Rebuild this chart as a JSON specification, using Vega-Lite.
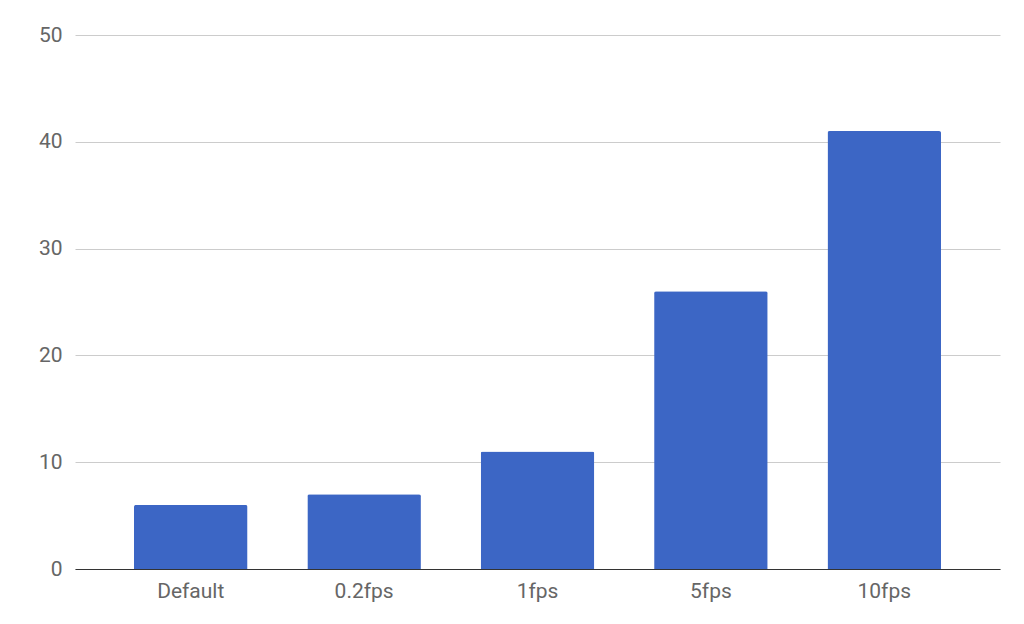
{
  "$schema": "https://vega.github.io/schema/vega-lite/v6.json",
  "width": 925,
  "height": 534,
  "autosize": {"type": "none"},
  "padding": {"left": 75, "top": 35, "right": 24, "bottom": 55},
  "background": "white",
  "config": {
    "view": {"stroke": null},
    "font": "Roboto"
  },
  "data": {
    "values": [
      {"setting": "Default", "value": 6},
      {"setting": "0.2fps", "value": 7},
      {"setting": "1fps", "value": 11},
      {"setting": "5fps", "value": 26},
      {"setting": "10fps", "value": 41}
    ]
  },
  "mark": {"type": "bar", "color": "#3c66c5", "cornerRadiusTopLeft": 2, "cornerRadiusTopRight": 2},
  "encoding": {
    "x": {
      "field": "setting",
      "type": "nominal",
      "sort": null,
      "scale": {"paddingInner": 0.345, "paddingOuter": 0.34},
      "axis": {
        "title": null,
        "labelAngle": 0,
        "labelFont": "Roboto",
        "labelFontSize": 21,
        "labelColor": "#666666",
        "labelPadding": 11,
        "ticks": false,
        "domainColor": "#333333",
        "domainWidth": 1.2
      }
    },
    "y": {
      "field": "value",
      "type": "quantitative",
      "scale": {"domain": [0, 50], "nice": false},
      "axis": {
        "title": null,
        "values": [0, 10, 20, 30, 40, 50],
        "labelFont": "Roboto",
        "labelFontSize": 21,
        "labelColor": "#666666",
        "labelPadding": 13,
        "ticks": false,
        "domain": false,
        "gridColor": "#cccccc",
        "gridWidth": 1
      }
    }
  }
}
